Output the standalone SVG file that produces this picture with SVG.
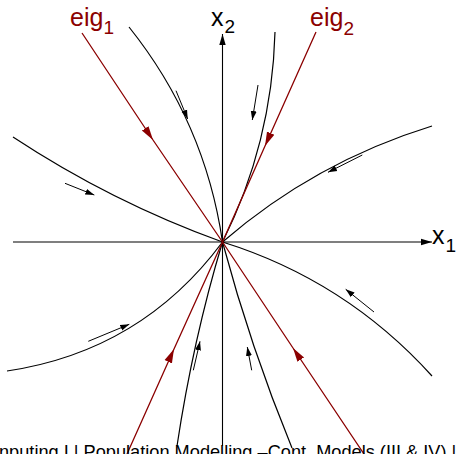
<svg xmlns="http://www.w3.org/2000/svg" width="459" height="454" viewBox="0 0 459 454">
<style>
.ax{stroke:#000;stroke-width:1.1;fill:none}
.cv{stroke:#000;stroke-width:1.2;fill:none}
.sa{stroke:#000;stroke-width:1;fill:none;marker-end:url(#bh)}
.eg{stroke:#8B0000;stroke-width:1.3;fill:none;marker-mid:url(#rh)}
.lbl{font-family:"Liberation Sans",Arial,sans-serif;font-size:25px}
.red{fill:#8B0000}
.sub{font-size:19px}
.foot{font-family:"Liberation Sans",Arial,sans-serif;font-size:18.2px;fill:#000}
</style>
<defs>
<marker id="ah" markerUnits="userSpaceOnUse" markerWidth="12" markerHeight="8" refX="11" refY="4" orient="auto"><path d="M0,0.8 L11,4 L0,7.2 Z" fill="#000"/></marker>
<marker id="bh" markerUnits="userSpaceOnUse" markerWidth="10" markerHeight="8" refX="9" refY="4" orient="auto"><path d="M0,1 L9,4 L0,7 Z" fill="#000"/></marker>
<marker id="rh" markerUnits="userSpaceOnUse" markerWidth="15" markerHeight="10" refX="14" refY="5" orient="auto"><path d="M0,1 L14,5 L0,9 Z" fill="#8B0000"/></marker>
</defs>
<g id="axes">
<path class="ax" d="M13,242 L432,242" marker-end="url(#ah)"/>
<path class="ax" d="M222.5,446 L222.5,34" marker-end="url(#ah)"/>
</g>
<g id="connectors">
<path class="cv" d="M129,27 Q205,122 222.5,242"/>
<path class="cv" d="M275,32 Q272,143 222.5,242"/>
<path class="cv" d="M432,126 Q315,162 222.5,242"/>
<path class="cv" d="M13,137 Q111.5,202 222.5,242"/>
<path class="cv" d="M7,371 Q141.4,351.1 222.5,242"/>
<path class="cv" d="M177,446 Q193,340 222.5,242"/>
<path class="cv" d="M292,448 Q250.6,347.2 222.5,242"/>
<path class="cv" d="M432,376 Q345.6,280.4 222.5,242"/>
<path class="sa" d="M176,90.7 L187.7,119"/>
<path class="sa" d="M258,85 L252.3,120"/>
<path class="sa" d="M362.3,155 L328,172.3"/>
<path class="sa" d="M65,183.3 L94.3,195"/>
<path class="sa" d="M88.3,341.3 L129.3,324.3"/>
<path class="sa" d="M193.3,370.3 L200,341.3"/>
<path class="sa" d="M251.7,370.3 L247.3,347"/>
<path class="sa" d="M374,312 L345.7,289.3"/>
<path class="eg" d="M82,33 L153,140 L222.5,242"/>
<path class="eg" d="M316,32 L265,146 L222.5,242"/>
<path class="eg" d="M364,454 L293,348 L222.5,242"/>
<path class="eg" d="M127,454 L174,349 L222.5,242"/>
</g>
<g id="eig1"><text class="lbl red" x="70" y="26">eig<tspan class="sub" dy="8">1</tspan></text></g>
<g id="eig2"><text class="lbl red" x="310" y="26">eig<tspan class="sub" dy="9">2</tspan></text></g>
<g id="x2"><text class="lbl" x="211" y="26">x<tspan class="sub" dx="1" dy="7">2</tspan></text></g>
<g id="x1"><text class="lbl" x="432" y="244">x<tspan class="sub" dx="1" dy="8">1</tspan></text></g>
<g id="footer"><text class="foot" x="-1" y="458">nputing I | Population Modelling –Cont. Models (III &amp; IV) |</text></g>
</svg>
